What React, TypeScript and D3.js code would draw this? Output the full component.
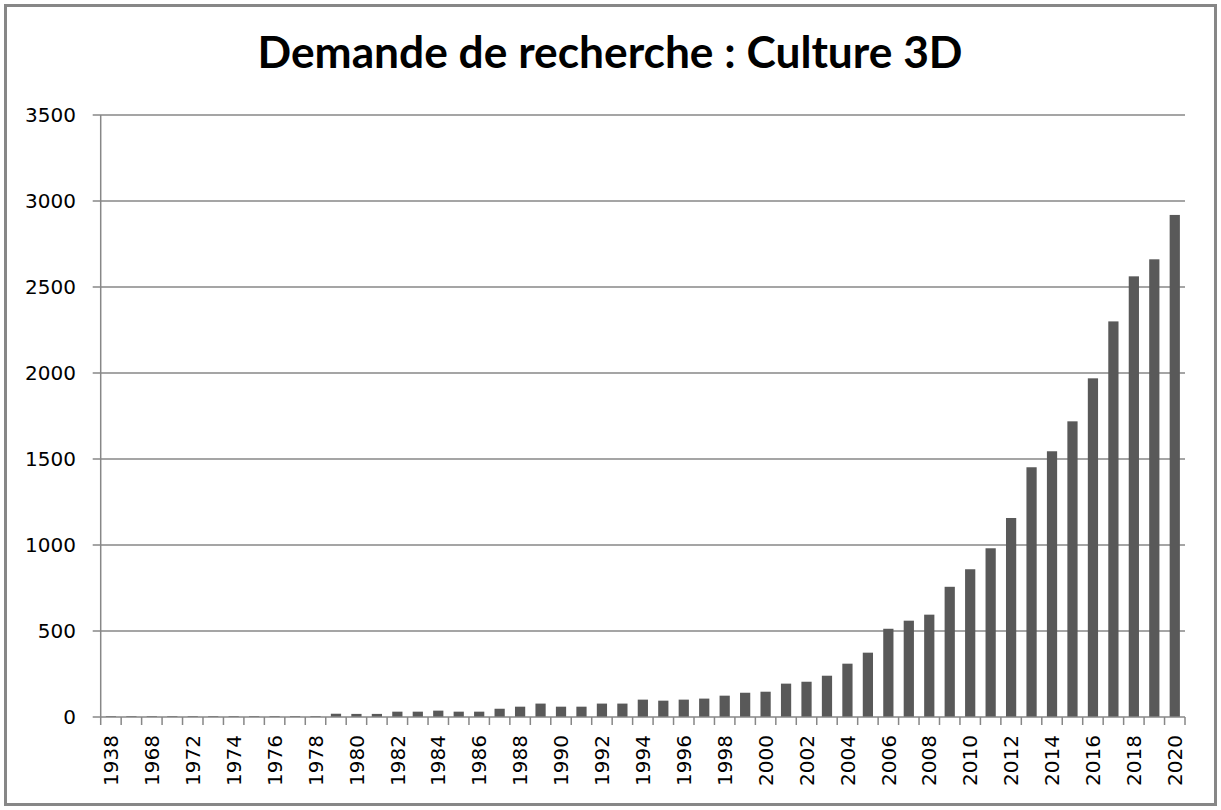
import React, { useEffect, useRef } from 'react';
import * as d3 from 'd3';

const years: string[] = [
    "1938", "1966", "1968", "1970", "1972", "1973", "1974", "1975", "1976", "1977",
    "1978", "1979", "1980", "1981", "1982", "1983", "1984", "1985", "1986", "1987",
    "1988", "1989", "1990", "1991", "1992", "1993", "1994", "1995", "1996", "1997",
    "1998", "1999", "2000", "2001", "2002", "2003", "2004", "2005", "2006", "2007",
    "2008", "2009", "2010", "2011", "2012", "2013", "2014", "2015", "2016", "2017",
    "2018", "2019", "2020",
];

const counts: number[] = [
    5, 5, 5, 5, 5, 5, 5, 5, 5, 5,
    5, 19, 18, 18, 31, 31, 37, 31, 31, 48,
    60, 78, 60, 60, 78, 78, 101, 95, 101, 107,
    124, 141, 147, 194, 205, 240, 310, 374, 513, 560,
    595, 757, 859, 981, 1157, 1452, 1545, 1719, 1969, 2300,
    2562, 2661, 2919,
];

const yTicks: number[] = [0, 500, 1000, 1500, 2000, 2500, 3000, 3500];

const title = "Demande de recherche : Culture 3D";

const App: React.FC = () => {
    const chartRef = useRef<SVGSVGElement>(null);

    useEffect(() => {
        const svg = d3.select(chartRef.current);
        svg.selectAll("*").remove();

        const left = 100.7, right = 1185, top = 115, bottom = 717;
        const axisColor = "#878787";
        const font = "'DejaVu Sans', Verdana, sans-serif";

        // outer frame
        svg.append("rect")
            .attr("x", 5.5).attr("y", 5.5)
            .attr("width", 1210).attr("height", 799)
            .attr("fill", "#fff")
            .attr("stroke", axisColor)
            .attr("stroke-width", 3);

        svg.append("text")
            .attr("x", 610).attr("y", 68)
            .attr("text-anchor", "middle")
            .attr("font-family", "Lato, 'Open Sans', sans-serif")
            .attr("font-weight", "bold")
            .attr("font-size", 43)
            .attr("textLength", 705)
            .attr("lengthAdjust", "spacingAndGlyphs")
            .attr("fill", "#000")
            .text(title);

        const x = d3.scaleBand<string>()
            .domain(years)
            .range([left, right])
            .paddingInner(0.5)
            .paddingOuter(0.25);
        const y = d3.scaleLinear().domain([0, 3500]).range([bottom, top]);

        // gridlines + y ticks
        svg.append("g")
            .selectAll("line")
            .data(yTicks.filter(t => t > 0))
            .enter().append("line")
            .attr("x1", left - 8).attr("x2", right)
            .attr("y1", d => y(d)).attr("y2", d => y(d))
            .attr("stroke", axisColor)
            .attr("stroke-width", 1.5);

        svg.append("g")
            .selectAll("text")
            .data(yTicks)
            .enter().append("text")
            .attr("x", 76)
            .attr("y", d => y(d))
            .attr("dy", "0.36em")
            .attr("text-anchor", "end")
            .attr("font-family", font)
            .attr("font-size", 20)
            .attr("fill", "#000")
            .text(d => d);

        // bars
        svg.append("g")
            .selectAll("rect")
            .data(years)
            .enter().append("rect")
            .attr("x", d => x(d) as number)
            .attr("width", x.bandwidth())
            .attr("y", (d, i) => y(counts[i]))
            .attr("height", (d, i) => y(0) - y(counts[i]))
            .attr("fill", "#595959");

        // axes lines
        svg.append("line")
            .attr("x1", left).attr("x2", left)
            .attr("y1", top).attr("y2", bottom)
            .attr("stroke", axisColor).attr("stroke-width", 1.5);
        svg.append("line")
            .attr("x1", left - 8).attr("x2", right)
            .attr("y1", bottom).attr("y2", bottom)
            .attr("stroke", axisColor).attr("stroke-width", 1.5);

        // x ticks between categories
        const step = x.step();
        svg.append("g")
            .selectAll("line")
            .data(d3.range(years.length + 1))
            .enter().append("line")
            .attr("x1", i => left + i * step).attr("x2", i => left + i * step)
            .attr("y1", bottom).attr("y2", bottom + 8)
            .attr("stroke", axisColor).attr("stroke-width", 1.5);

        // x labels, every other category
        svg.append("g")
            .selectAll("text")
            .data(years.filter((d, i) => i % 2 === 0))
            .enter().append("text")
            .attr("transform", d => `translate(${(x(d) as number) + x.bandwidth() / 2},735) rotate(-90)`)
            .attr("dy", "0.36em")
            .attr("text-anchor", "end")
            .attr("font-family", font)
            .attr("font-size", 20)
            .attr("fill", "#000")
            .text(d => d);
    }, []);

    return (
        <svg ref={chartRef} width="1221" height="810"
            style={{ position: "absolute", top: 0, left: 0, display: "block" }}></svg>
    );
};

export default App;
